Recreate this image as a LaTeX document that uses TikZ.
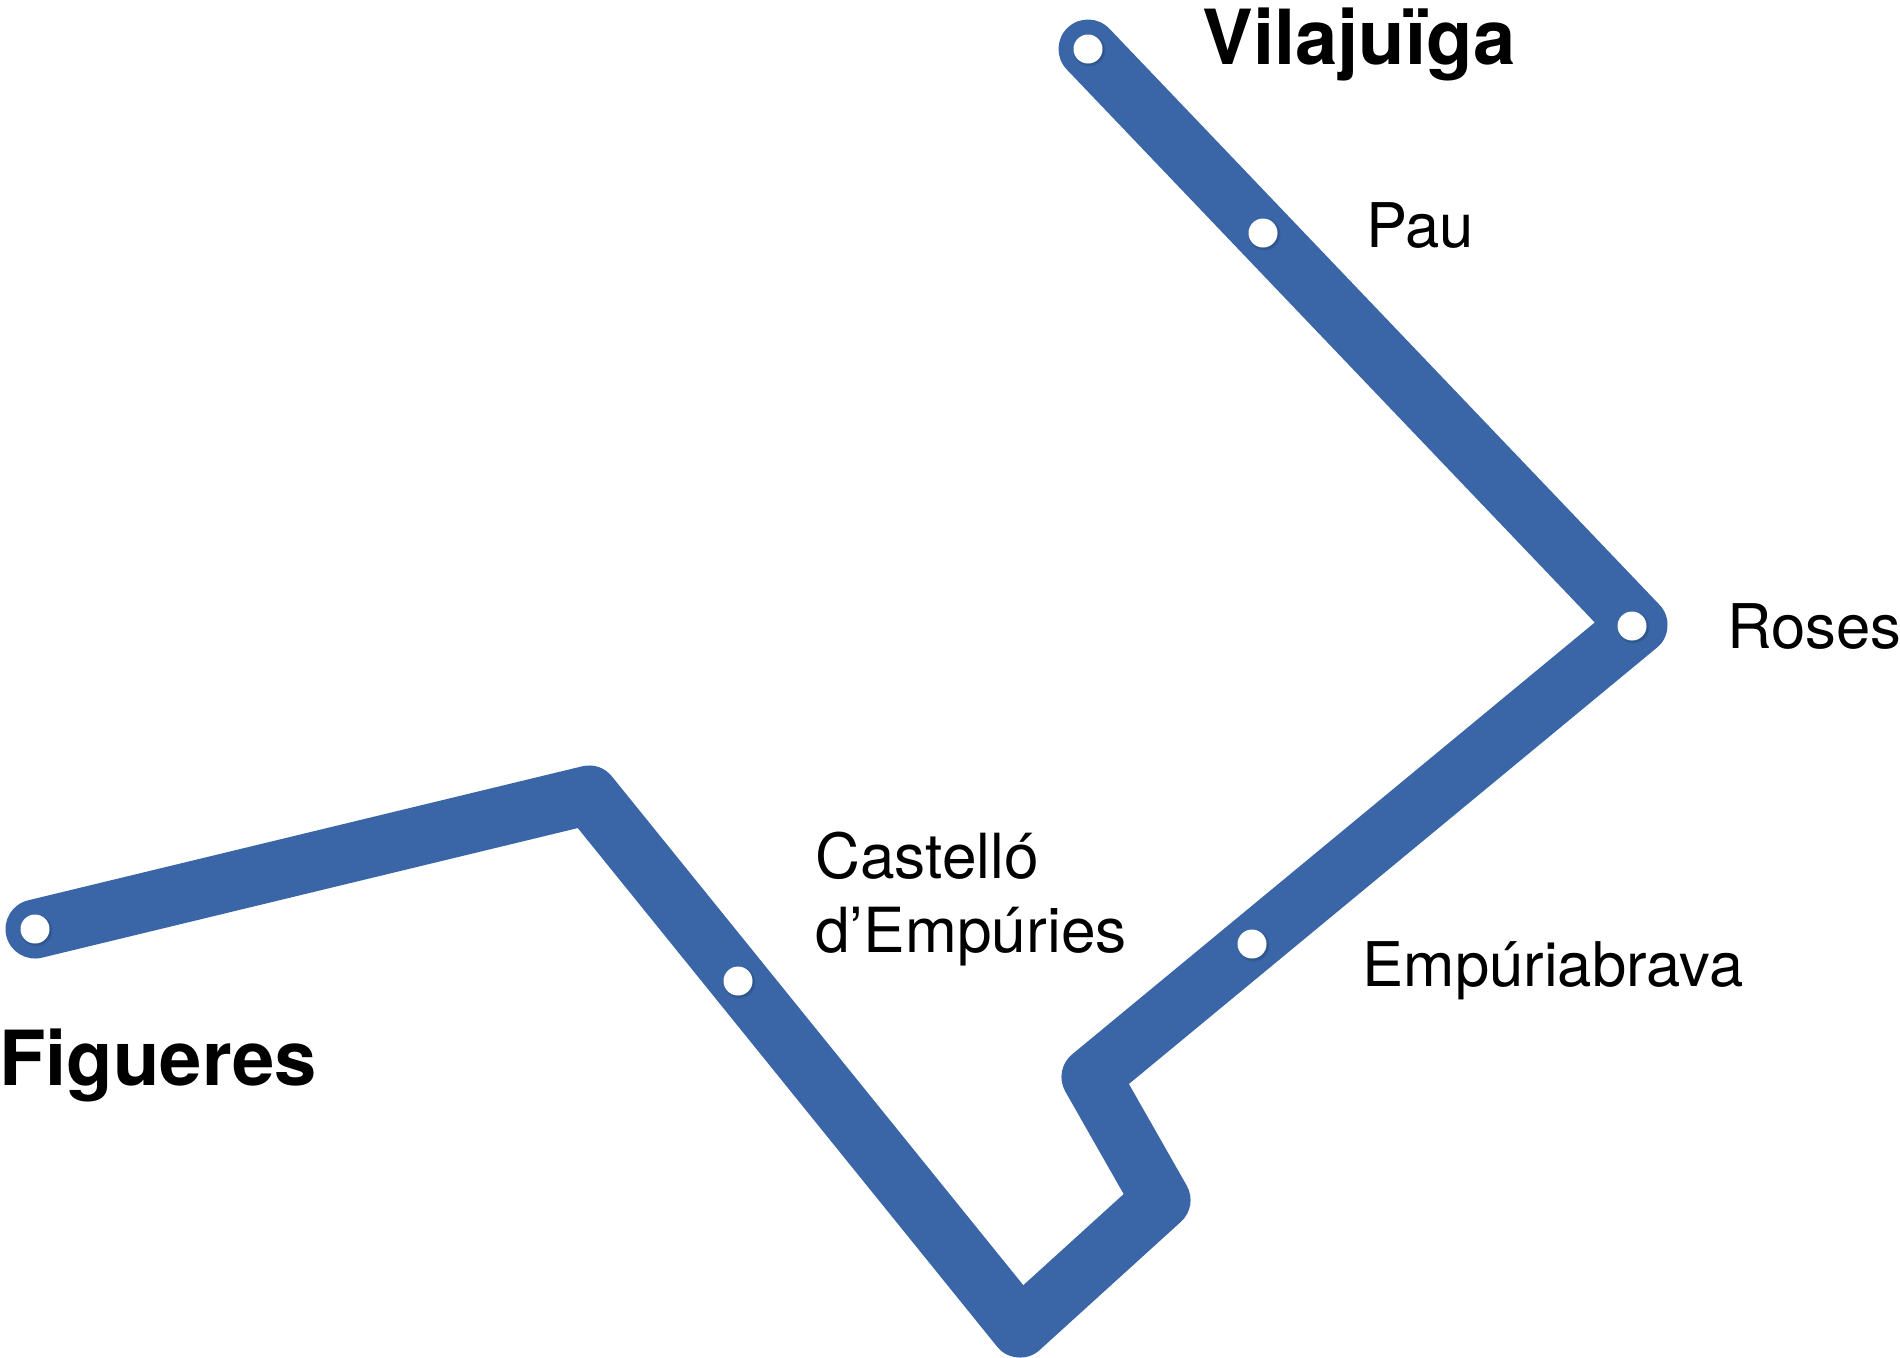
\documentclass[tikz,border=0pt]{standalone}
\usepackage{fontspec}
\setmainfont{TeX Gyre Heros}
\definecolor{lineblue}{HTML}{3A66A7}
\tikzset{
  routeline/.style={draw=lineblue,line width=29.5pt,line join=round,line cap=round},
  halo/.style={preaction={draw=black,draw opacity=#1,line width=1.8pt,transform canvas={xshift=.7pt,yshift=-.7pt}},
               preaction={draw=black,draw opacity=#1,line width=.9pt,transform canvas={xshift=.7pt,yshift=-.7pt}},
               preaction={fill=black,fill opacity=#1,transform canvas={xshift=.7pt,yshift=-.7pt}}},
  stopdot/.style={circle,fill=white,minimum size=14.5pt,inner sep=0pt,halo=0.06},
  major/.style={anchor=base west,inner sep=0pt,font=\fontsize{38}{38}\selectfont\bfseries},
  minor/.style={anchor=base west,inner sep=0pt,font=\fontsize{30.8}{37}\selectfont},
  minorb/.style={minor,font=\fontsize{31.1}{37}\selectfont}
}
\begin{document}
\begin{tikzpicture}[x=0.5pt,y=-0.5pt]
\useasboundingbox (0,0) rectangle (1900,1357);
\coordinate (figc) at (35,929);
\coordinate (vilc) at (1088,49);
\coordinate (peak) at (589,795);
\coordinate (bottom) at (1020,1328);
\coordinate (turnb) at (1161,1200);
\coordinate (turna) at (1091,1077);
\coordinate (rosc) at (1638,625);
\draw[routeline] (figc) -- (peak) -- (bottom) -- (turnb) -- (turna) -- (rosc) -- (vilc);
\node[stopdot] (figueres) at (figc) {};
\node[stopdot] (castello) at (738,981) {};
\node[stopdot] (empuria) at (1252,944) {};
\node[stopdot] (roses) at (1632,626) {};
\node[stopdot] (pau) at (1263,233) {};
\node[stopdot] (vilajuiga) at (vilc) {};
\node[major] (lvil) at (1202,64) {Vilajuïga};
\node[major] (lfig) at (-1,1085) {Figueres};
\node[minor] (lpau) at (1366,247) {Pau};
\node[minor] (lros) at (1727,648) {Roses};
\node[minor] (lemp) at (1362,986) {Empúriabrava};
\node[minorb] (lcas) at (815,878) {Castelló};
\node[minorb] (lcas2) at (815,952) {d’Empúries};
\end{tikzpicture}
\end{document}
